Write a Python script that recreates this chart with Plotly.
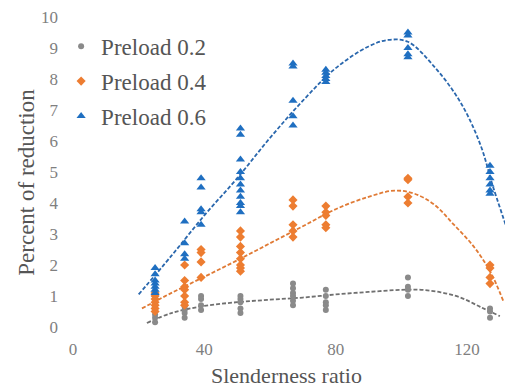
import plotly.graph_objects as go

# ---- data ----
p02_x = [25]*4 + [34]*4 + [39]*4 + [51]*5 + [67]*6 + [77]*5 + [102]*4 + [127]*3
p02_y = [0.55, 0.4, 0.3, 0.15,
         0.65, 0.55, 0.45, 0.3,
         1.0, 0.9, 0.7, 0.55,
         1.0, 0.9, 0.8, 0.6, 0.45,
         1.4, 1.25, 1.1, 1.0, 0.85, 0.7,
         1.2, 1.0, 0.8, 0.7, 0.55,
         1.6, 1.3, 1.2, 1.0,
         0.6, 0.5, 0.3]

p04_x = [25]*7 + [34]*7 + [39]*4 + [51]*8 + [67]*5 + [77]*5 + [102]*4 + [127]*4
p04_y = [1.1, 1.0, 0.9, 0.8, 0.7, 0.6, 0.5,
         2.0, 1.5, 1.3, 1.2, 1.0, 0.8, 0.7,
         2.5, 2.4, 2.1, 1.6,
         3.1, 2.9, 2.6, 2.4, 2.2, 2.0, 1.9, 1.8,
         4.1, 3.9, 3.3, 3.1, 2.9,
         3.9, 3.7, 3.6, 3.3, 3.2,
         4.8, 4.75, 4.2, 4.0,
         2.0, 1.9, 1.6, 1.4]

p06_x = [25]*7 + [34]*4 + [39]*5 + [51]*11 + [67]*5 + [77]*5 + [102]*5 + [127]*6
p06_y = [1.9, 1.7, 1.5, 1.4, 1.3, 1.2, 1.1,
         3.4, 2.7, 2.35, 2.2,
         4.8, 4.5, 3.8, 3.7, 3.3,
         6.4, 6.2, 5.4, 5.0, 4.8, 4.6, 4.4, 4.2, 4.0, 3.9, 3.7,
         8.5, 8.4, 7.3, 6.8, 6.5,
         8.3, 8.2, 8.1, 8.0, 7.9,
         9.5, 9.4, 9.0, 8.8, 8.7,
         5.2, 5.0, 4.8, 4.6, 4.4, 4.3]

# trend lines
t02_x = [22.5, 30, 40, 50, 60, 70, 80, 90, 100, 106, 112, 118, 124, 130]
t02_y = [0.13, 0.45, 0.68, 0.8, 0.88, 0.95, 1.05, 1.13, 1.2, 1.2, 1.12, 0.95, 0.65, 0.35]
t04_x = [21, 30, 40, 50, 60, 70, 80, 90, 98, 104, 110, 116, 122, 127, 131]
t04_y = [0.6, 1.1, 1.62, 2.15, 2.7, 3.25, 3.8, 4.2, 4.4, 4.3, 3.95, 3.3, 2.6, 1.8, 0.85]
t06_x = [20, 30, 40, 50, 60, 70, 80, 90, 96, 102, 110, 118, 124, 128, 134]
t06_y = [1.05, 2.3, 3.6, 4.8, 6.1, 7.3, 8.35, 9.05, 9.26, 9.2, 8.4, 7.25, 5.9, 4.5, 2.6]

x_ticks = [0, 40, 80, 120]
y_ticks = list(range(0, 11))

names = ["Preload 0.2", "Preload 0.4", "Preload 0.6"]
mcol = ["#8a8a8a", "#ed7d31", "#1f6fc1"]
lcol = ["#707070", "#e07a35", "#2a67ad"]
symbols = ["circle", "diamond", "triangle-up"]
sizes = [6, 7, 8]

fig = go.Figure()
series = [(p02_x, p02_y, t02_x, t02_y), (p04_x, p04_y, t04_x, t04_y), (p06_x, p06_y, t06_x, t06_y)]
for i, (px, py, tx, ty) in enumerate(series):
    fig.add_trace(go.Scatter(x=tx, y=ty, mode="lines", line=dict(color=lcol[i], width=1.8, dash="4px,2px", shape="spline"),
                             showlegend=False, hoverinfo="skip", cliponaxis=False))
for i, (px, py, tx, ty) in enumerate(series):
    fig.add_trace(go.Scatter(x=px, y=py, mode="markers", name=names[i], legendgroup=str(i),
                             marker=dict(color=mcol[i], symbol=symbols[i], size=sizes[i], line=dict(width=0)),
                             cliponaxis=False))

font_f = "Liberation Serif"
tick_col = "#7f7f7f"
text_col = "#555555"
fig.update_layout(
    width=505, height=379,
    margin=dict(l=65, r=0, t=9, b=60),
    paper_bgcolor="white", plot_bgcolor="white",
    font=dict(family=font_f, color=text_col),
    showlegend=True,
    legend=dict(x=-0.027, y=0.975, xanchor="left", yanchor="top", bgcolor="rgba(0,0,0,0)",
                font=dict(family=font_f, size=23, color=text_col), tracegroupgap=2,
                traceorder="grouped", itemwidth=30),
    xaxis=dict(range=[0, 134], tickvals=x_ticks, showgrid=False, zeroline=False, showline=False,
               ticks="", tickfont=dict(family=font_f, size=17, color=tick_col), ticklabelstandoff=10,
               ticklabeloverflow="allow"),
    yaxis=dict(range=[0, 10], tickvals=y_ticks, showgrid=False, zeroline=False, showline=False,
               ticks="", tickfont=dict(family=font_f, size=17, color=tick_col), ticklabelstandoff=14,
               ticklabeloverflow="allow"),
    annotations=[
        dict(text="Slenderness ratio", x=0.486, y=-0.155, xref="paper", yref="paper", showarrow=False,
             font=dict(family=font_f, size=22, color=text_col), xanchor="center", yanchor="middle"),
        dict(text="Percent of reduction", x=-0.105, y=0.468, xref="paper", yref="paper", showarrow=False,
             textangle=-90, font=dict(family=font_f, size=23, color=text_col), xanchor="center", yanchor="middle"),
    ],
)
fig.write_html("out.html")
